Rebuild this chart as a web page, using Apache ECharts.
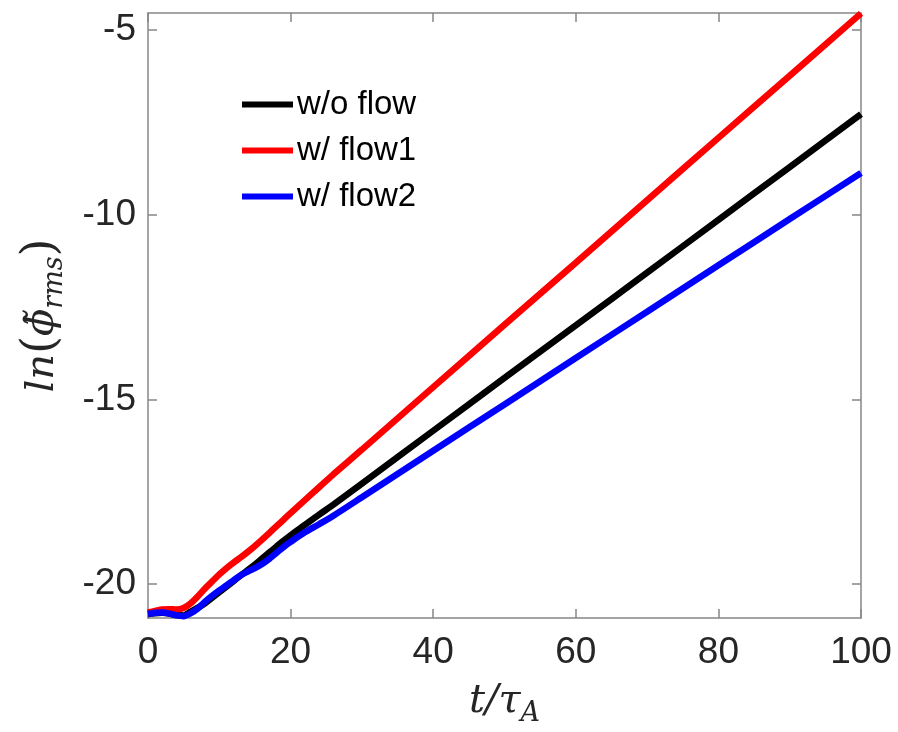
<!DOCTYPE html>
<html>
<head>
<meta charset="utf-8">
<script src="https://cdn.jsdelivr.net/npm/echarts@6/dist/echarts.min.js"></script>
<style>html,body{margin:0;padding:0;background:#fff}#c{width:898px;height:732px}</style>
</head>
<body>
<div id="c"></div>
<script>
var tValues = [0,1,2,3,4,5,6,7,8,9,10,11,12,13,14,15,16,17,18,19,20,22,24,26,30,40,50,60,70,80,90,100];
var noFlow = [-20.81,-20.79,-20.78,-20.80,-20.84,-20.85,-20.75,-20.64,-20.52,-20.37,-20.22,-20.07,-19.92,-19.77,-19.62,-19.47,-19.31,-19.15,-18.99,-18.83,-18.68,-18.40,-18.12,-17.85,-17.28,-15.85,-14.42,-13.00,-11.57,-10.14,-8.71,-7.28];
var flow1 = [-20.77,-20.73,-20.69,-20.68,-20.69,-20.65,-20.52,-20.33,-20.12,-19.93,-19.74,-19.57,-19.42,-19.28,-19.13,-18.97,-18.80,-18.62,-18.44,-18.26,-18.08,-17.73,-17.38,-17.03,-16.36,-14.67,-12.98,-11.30,-9.61,-7.92,-6.24,-4.55];
var flow2 = [-20.81,-20.78,-20.77,-20.80,-20.85,-20.87,-20.79,-20.66,-20.48,-20.32,-20.17,-20.04,-19.90,-19.76,-19.66,-19.57,-19.46,-19.32,-19.16,-19.00,-18.86,-18.60,-18.38,-18.15,-17.65,-16.39,-15.14,-13.88,-12.63,-11.37,-10.12,-8.87];
var seriesNames = ['w/o flow','w/ flow1','w/ flow2'];
var seriesColors = ['#000000','#ff0000','#0000ff'];
var xTicks = [0,20,40,60,80,100];
var yTicks = [-20,-15,-10,-5];

function pairs(v){ return tValues.map(function(t,i){ return [t, v[i]]; }); }
var allData = [noFlow, flow1, flow2];

var axisGray = '#868686';
var labelColor = '#262626';
var chart = echarts.init(document.getElementById('c'), null, {renderer:'canvas'});
var xMin = 0, xMax = 100, yMin = -20.92, yMax = -4.54;
function baseX(show){
  return {
    type:'value', min:xMin, max:xMax, interval:20,
    axisLine:{show:true, onZero:false, lineStyle:{color:axisGray, width:1.5}},
    axisTick:{show:true, inside:true, length:9, lineStyle:{color:axisGray, width:1.5}, customValues: xTicks},
    axisLabel:{show:show, color:labelColor, fontSize:37, fontFamily:'Liberation Sans, Arial, sans-serif', margin:16, customValues: xTicks},
    splitLine:{show:false}
  };
}
function baseY(show){
  return {
    type:'value', min:yMin, max:yMax,
    axisLine:{show:true, onZero:false, lineStyle:{color:axisGray, width:1.5}},
    axisTick:{show:true, inside:true, length:9, lineStyle:{color:axisGray, width:1.5}, customValues: yTicks},
    axisLabel:{show:show, color:labelColor, fontSize:37, fontFamily:'Liberation Sans, Arial, sans-serif', margin:12, customValues: yTicks},
    splitLine:{show:false}
  };
}
var richName = {
  i:{fontFamily:'DejaVu Serif', fontStyle:'italic', fontSize:40, color:labelColor},
  p:{fontFamily:'DejaVu Serif', fontSize:46, color:labelColor},
  s:{fontFamily:'DejaVu Serif', fontStyle:'italic', fontSize:27, color:labelColor, padding:[24,0,0,0]}
};
var xb = baseX(true);
xb.position = 'bottom';
xb.name = '{i|t/\u03C4}{s|A}';
xb.nameLocation = 'middle';
xb.nameGap = 58;
xb.nameTextStyle = {rich:richName};
var xt = baseX(false); xt.position = 'top';
var yl = baseY(true);
yl.position = 'left';
yl.name = '{i|ln}{p|(}{i|\u03D5\u0303}{s|rms}{p|)}';
yl.nameLocation = 'middle';
yl.nameGap = 80;
yl.nameTextStyle = {rich:richName};
var yr = baseY(false); yr.position = 'right';

chart.setOption({
  animation:false,
  backgroundColor:'#ffffff',
  grid:{left:148, right:37, top:13, bottom:113, containLabel:false},
  xAxis:[xb, xt],
  yAxis:[yl, yr],
  legend:{
    orient:'vertical', left:237, top:83, itemWidth:51, itemHeight:6, itemGap:13,
    icon:'rect',
    textStyle:{fontSize:33, color:'#000', fontFamily:'Liberation Sans, Arial, sans-serif', padding:[0,0,0,-1]},
    data: seriesNames.map(function(n,i){ return {name:n, itemStyle:{color:seriesColors[i]}}; })
  },
  series: seriesNames.map(function(n,i){
    return {
      name:n, type:'line', xAxisIndex:0, yAxisIndex:0,
      data: pairs(allData[i]), showSymbol:false, smooth:0.3,
      lineStyle:{color:seriesColors[i], width:6.5}, itemStyle:{color:seriesColors[i]},
      clip:false
    };
  })
});
</script>
</body>
</html>
